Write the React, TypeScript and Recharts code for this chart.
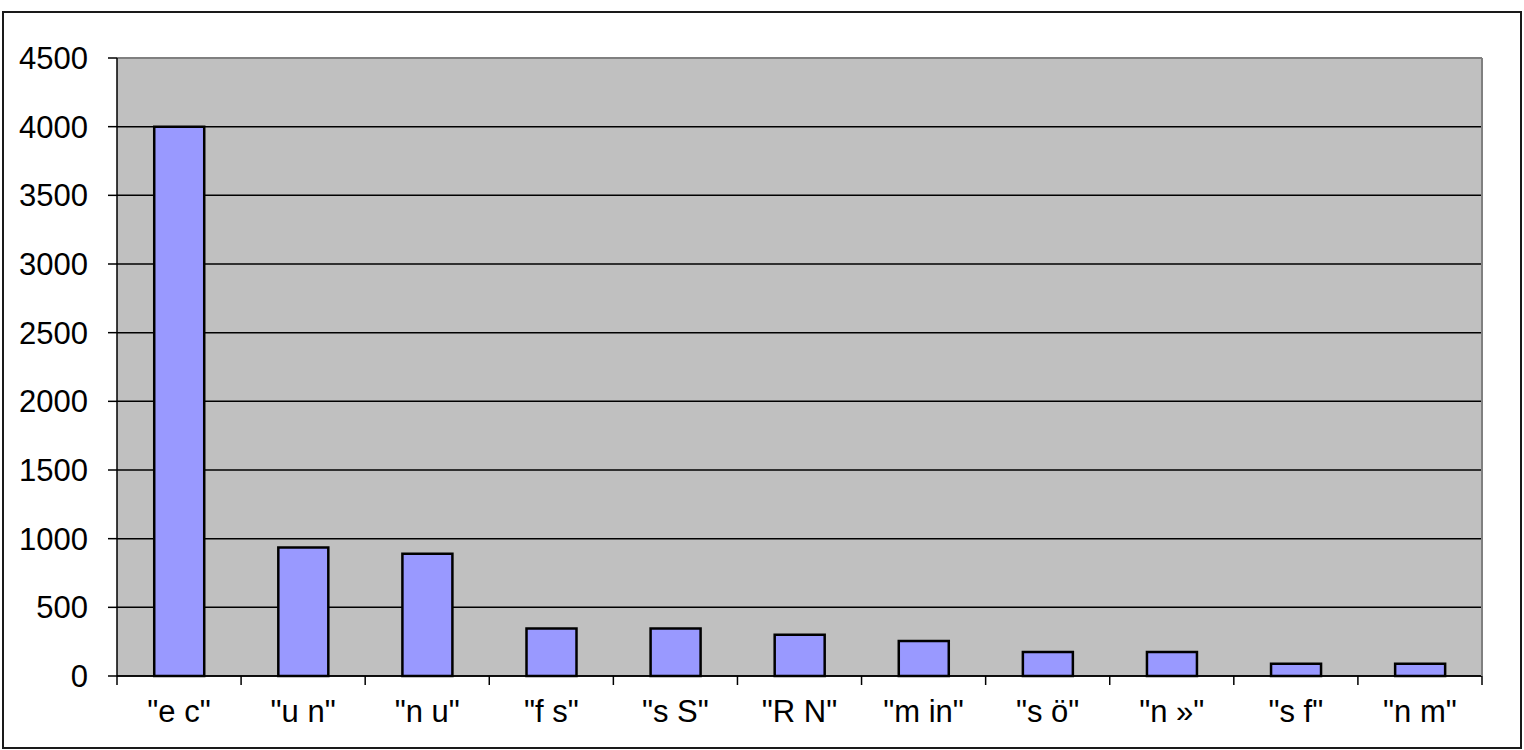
import { BarChart, Bar, XAxis, YAxis, CartesianGrid, ReferenceLine } from 'recharts'

const CATEGORIES = ['"e c"', '"u n"', '"n u"', '"f s"', '"s S"', '"R N"', '"m in"', '"s ö"', '"n »"', '"s f"', '"n m"']
const VALUES = [4000, 935, 890, 345, 345, 300, 255, 175, 175, 90, 90]
const Y_TICKS = [0, 500, 1000, 1500, 2000, 2500, 3000, 3500, 4000, 4500]

const FONT = '"Liberation Sans", Arial, sans-serif'

// label at band centre, tick marks at the band edges (like Excel)
function CategoryTick(props: any) {
  const { x, y, payload, index, visibleTicksCount } = props
  const half = payload?.offset ?? 0
  const isLast = index === visibleTicksCount - 1
  return (
    <g>
      <line x1={x - half} y1={y} x2={x - half} y2={y + 9} stroke="#000" strokeWidth={1.5} />
      {isLast && <line x1={x + half} y1={y} x2={x + half} y2={y + 9} stroke="#000" strokeWidth={1.5} />}
      <text x={x} y={y + 24} dy="0.71em" textAnchor="middle" fill="#000" fontSize={31} fontFamily={FONT}>
        {payload.value}
      </text>
    </g>
  )
}

export default function App() {
  const data = CATEGORIES.map((name, i) => ({ name, value: VALUES[i] }))

  return (
    <div style={{ position: 'absolute', left: 0, top: 0, width: 1524, height: 750, background: '#fff' }}>
      {/* outer frame */}
      <div
        style={{
          position: 'absolute',
          left: 2,
          top: 11,
          width: 1516,
          height: 734,
          border: '2px solid #1a1a1a',
        }}
      />
      <div style={{ position: 'absolute', left: 0, top: 0 }}>
        <BarChart
          width={1524}
          height={750}
          data={data}
          margin={{ top: 58, right: 41, bottom: 0, left: 0 }}
          barCategoryGap="30%"
        >
          <CartesianGrid vertical={false} fill="#C0C0C0" stroke="#000" strokeWidth={1.5} />
          <XAxis
            dataKey="name"
            height={74}
            axisLine={{ stroke: '#000', strokeWidth: 1.5 }}
            tickLine={false}
            tickSize={0}
            tickMargin={0}
            interval={0}
            tick={<CategoryTick />}
          />
          <YAxis
            width={117}
            domain={[0, 4500]}
            ticks={Y_TICKS}
            interval={0}
            tickSize={9}
            tickMargin={20}
            axisLine={{ stroke: '#000', strokeWidth: 1.5 }}
            tickLine={{ stroke: '#000', strokeWidth: 1.5 }}
            tick={{ fill: '#000', fontSize: 31, fontFamily: FONT }}
          />
          <YAxis
            yAxisId="right"
            orientation="right"
            width={1}
            domain={[0, 4500]}
            tick={false}
            tickLine={false}
            axisLine={{ stroke: '#808080', strokeWidth: 2 }}
          />
          <ReferenceLine y={4500} stroke="#808080" strokeWidth={2} />
          <Bar dataKey="value" fill="#9999FF" stroke="#000" strokeWidth={2.5} isAnimationActive={false} />
        </BarChart>
      </div>
    </div>
  )
}
